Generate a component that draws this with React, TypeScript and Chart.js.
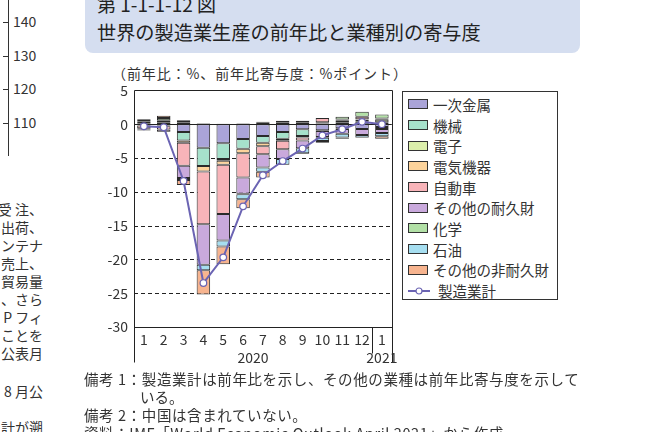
import React, { useEffect, useRef } from 'react';
import Chart from 'chart.js/auto';

// 月（2020年1月〜2021年1月）
const months = ['1', '2', '3', '4', '5', '6', '7', '8', '9', '10', '11', '12', '1'];
const yearLabels = ['2020', '2021'];

// 業種別の寄与度（%ポイント）
const ichijiKinzoku = [-0.1, -0.2, -1.15, -3.5, -2.8, -2.2, -1.75, -1.15, -0.75, -0.9, -0.6, -0.7, -0.4];
const kikai = [0.15, 0.3, -1.25, -2.7, -2.35, -1.45, -1.0, -1.0, -1.0, 0.1, 0.3, 0.35, 0.3];
const denshi = [0.3, 0.3, 0.3, 0.1, -0.25, 0.1, 0.3, 0.3, 0.3, 0.2, 0.3, 0.3, 0.35];
const denkiKiki = [-0.1, -0.1, -0.35, -0.8, -0.6, -0.65, -0.5, -0.3, -0.2, -0.1, -0.1, 0.1, 0.2];
const jidosha = [-0.4, -0.5, -3.4, -7.8, -7.3, -3.6, -1.2, -1.25, -0.45, 0.6, 0.1, 0.35, -0.3];
const sonotaTaikyu = [-0.2, -0.3, -1.8, -6.0, -3.9, -2.4, -1.95, -1.45, -1.15, -0.9, -0.7, -0.9, -0.6];
const kagaku = [0.3, 0.3, 0.3, 0.05, 0.05, -0.05, 0.05, 0.2, 0.2, -0.1, 0.4, 0.75, 0.6];
const sekiyu = [-0.05, -0.05, -0.3, -0.8, -0.9, -0.75, -0.65, -0.85, -0.75, -0.5, -0.55, -0.35, -0.5];
const sonotaHiTaikyu = [-0.1, 0.35, -0.75, -3.6, -2.6, -1.35, -0.85, -0.05, -0.1, -0.25, -0.2, -0.1, -0.35];

// 製造業計（前年比 %）
const seizogyoKei = [-0.3, -0.45, -8.4, -23.5, -19.7, -12.15, -7.55, -5.45, -3.6, -1.65, -0.75, 0.35, 0.0];

const barSeries = [
  { label: '一次金属', data: ichijiKinzoku, color: '#aaa4d8' },
  { label: '機械', data: kikai, color: '#a6e1cb' },
  { label: '電子', data: denshi, color: '#dcefab' },
  { label: '電気機器', data: denkiKiki, color: '#fdd39b' },
  { label: '自動車', data: jidosha, color: '#f8b4b9' },
  { label: 'その他の耐久財', data: sonotaTaikyu, color: '#c9a9dc' },
  { label: '化学', data: kagaku, color: '#b2e0a6' },
  { label: '石油', data: sekiyu, color: '#a6def0' },
  { label: 'その他の非耐久財', data: sonotaHiTaikyu, color: '#f7b48f' },
];
const lineLabel = '製造業計';
const lineColor = '#6b64b3';

const yTicks = [5, 0, -5, -10, -15, -20, -25, -30];

const FONT = '"Noto Sans CJK JP", "Noto Sans", sans-serif';
const INK = '#333';

// 破線グリッド・枠・年ラベル
const framePlugin = {
  id: 'frame',
  beforeDatasetsDraw(chart: any) {
    const { ctx, chartArea, scales } = chart;
    const y = scales.y;
    ctx.save();
    ctx.lineWidth = 1;
    ctx.strokeStyle = '#222';
    yTicks.forEach((v) => {
      if (v === 5 || v === -30) return;
      const py = Math.round(y.getPixelForValue(v)) + 0.5;
      ctx.setLineDash(v === 0 ? [] : [4, 3]);
      ctx.beginPath();
      ctx.moveTo(chartArea.left, py);
      ctx.lineTo(chartArea.right, py);
      ctx.stroke();
    });
    ctx.restore();
  },
  afterDraw(chart: any) {
    const { ctx, chartArea, scales } = chart;
    const x = scales.x;
    const l = Math.round(chartArea.left) + 0.5;
    const r = Math.round(chartArea.right) + 0.5;
    const t = Math.round(chartArea.top) + 0.5;
    const b = Math.round(chartArea.bottom) + 0.5;
    ctx.save();
    ctx.strokeStyle = '#222';
    ctx.lineWidth = 1;
    ctx.setLineDash([]);
    ctx.beginPath();
    ctx.moveTo(l, b + 35);
    ctx.lineTo(l, t);
    ctx.lineTo(r, t);
    ctx.lineTo(r, b + 35);
    ctx.moveTo(l, b);
    ctx.lineTo(r, b);
    const sep = Math.round((x.getPixelForValue(11) + x.getPixelForValue(12)) / 2) + 0.5;
    ctx.moveTo(sep, b);
    ctx.lineTo(sep, b + 26);
    ctx.stroke();

    ctx.fillStyle = INK;
    ctx.font = `14px ${FONT}`;
    ctx.textAlign = 'center';
    ctx.textBaseline = 'middle';
    const c2020 = (x.getPixelForValue(0) + x.getPixelForValue(11)) / 2;
    ctx.fillText(yearLabels[0], c2020, b + 30);
    ctx.fillText(yearLabels[1], x.getPixelForValue(12), b + 30);
    ctx.restore();
  },
};

const MfgChart: React.FC = () => {
  const canvasRef = useRef<HTMLCanvasElement | null>(null);

  useEffect(() => {
    if (!canvasRef.current) return;
    const chart = new Chart(canvasRef.current, {
      type: 'bar',
      data: {
        labels: months,
        datasets: [
          {
            type: 'line',
            label: lineLabel,
            data: seizogyoKei,
            stack: 'total',
            order: -1,
            borderColor: lineColor,
            borderWidth: 2,
            pointRadius: 3.3,
            pointBorderWidth: 1.2,
            pointBackgroundColor: '#fff',
            pointBorderColor: lineColor,
            tension: 0,
          } as any,
          ...barSeries.map((s) => ({
            type: 'bar' as const,
            label: s.label,
            data: s.data,
            stack: 'parts',
            backgroundColor: s.color,
            borderColor: '#2a2a2a',
            borderWidth: 1,
            borderSkipped: false,
            barPercentage: 0.68,
            categoryPercentage: 1,
          })),
        ],
      },
      options: {
        animation: false,
        responsive: true,
        maintainAspectRatio: false,
        layout: { padding: { top: 3, right: 5, left: 0, bottom: 0 } },
        plugins: { legend: { display: false }, tooltip: { enabled: false } },
        scales: {
          x: {
            stacked: true,
            grid: { display: false, drawTicks: false },
            border: { display: false },
            ticks: {
              color: INK,
              font: { family: FONT, size: 14 },
              padding: 4,
              maxRotation: 0,
              autoSkip: false,
            },
            afterFit: (scale: any) => {
              scale.height = 45;
            },
          },
          y: {
            stacked: true,
            min: -30,
            max: 5,
            grid: { display: false, drawTicks: false },
            border: { display: false },
            ticks: {
              stepSize: 5,
              color: INK,
              font: { family: FONT, size: 14 },
              padding: 6,
            },
            afterFit: (scale: any) => {
              scale.width = 49;
            },
          },
        },
      },
      plugins: [framePlugin],
    });
    return () => {
      chart.destroy();
    };
  }, []);

  return (
    <div style={{ position: 'absolute', left: 85, top: 76, width: 312, height: 296 }}>
      <canvas ref={canvasRef} />
    </div>
  );
};

const Legend: React.FC = () => (
  <div
    style={{
      position: 'absolute',
      left: 402,
      top: 91,
      width: 156,
      height: 209,
      border: '1px solid #333',
      boxSizing: 'border-box',
      paddingTop: 2,
    }}
  >
    {barSeries.map((s) => (
      <div key={s.label} style={{ display: 'flex', alignItems: 'center', height: 20.7, paddingLeft: 5 }}>
        <span
          style={{
            display: 'inline-block',
            width: 20,
            height: 10,
            background: s.color,
            border: '1px solid #333',
            boxSizing: 'border-box',
            marginRight: 5,
          }}
        />
        <span style={{ fontSize: 14.5, color: INK, whiteSpace: 'nowrap' }}>{s.label}</span>
      </div>
    ))}
    <div style={{ display: 'flex', alignItems: 'center', height: 20.7, paddingLeft: 5 }}>
      <svg width={22} height={10} style={{ marginRight: 8 }}>
        <line x1={0} y1={5} x2={22} y2={5} stroke={lineColor} strokeWidth={2} />
        <circle cx={11} cy={5} r={3} fill="#fff" stroke={lineColor} strokeWidth={1.2} />
      </svg>
      <span style={{ fontSize: 14.5, color: INK, whiteSpace: 'nowrap' }}>{lineLabel}</span>
    </div>
  </div>
);

const sideLines: { text: string; y: number }[] = [
  { text: '受 注、', y: 210 },
  { text: '出荷、', y: 228 },
  { text: 'ンテナ', y: 246 },
  { text: '売上、', y: 264 },
  { text: '貿易量', y: 282 },
  { text: '、さら', y: 300 },
  { text: 'P フィ', y: 318 },
  { text: 'ことを', y: 336 },
  { text: '公表月', y: 354 },
  { text: '8 月公', y: 392 },
  { text: '計が遡', y: 428 },
];
const sideTicks = ['140', '130', '120', '110'];

const App: React.FC = () => {
  const text: React.CSSProperties = { position: 'absolute', whiteSpace: 'nowrap', color: INK, lineHeight: 1 };
  return (
    <div
      style={{
        position: 'fixed',
        left: 0,
        top: 0,
        width: 667,
        height: 432,
        overflow: 'hidden',
        background: '#fff',
        fontFamily: FONT,
      }}
    >
      {/* 左端の別図の軸 */}
      <div style={{ position: 'absolute', left: 8, top: 0, width: 1, height: 156, background: '#333' }} />
      {sideTicks.map((t, i) => (
        <React.Fragment key={t}>
          <div style={{ position: 'absolute', left: 3, top: 22 + i * 33.7, width: 5, height: 1, background: '#333' }} />
          <div style={{ ...text, left: 13, top: 22 + i * 33.7 - 8, fontSize: 14 }}>{t}</div>
        </React.Fragment>
      ))}
      {sideLines.map((l) => (
        <div key={l.y} style={{ ...text, right: 667 - 43, top: l.y - 8, fontSize: 14, textAlign: 'right' }}>
          {l.text}
        </div>
      ))}

      {/* タイトル */}
      <div
        style={{
          position: 'absolute',
          left: 85,
          top: -20,
          width: 495,
          height: 73,
          background: '#d5def0',
          borderRadius: 8,
        }}
      />
      <div style={{ ...text, left: 97, top: -6, fontSize: 19, color: '#222' }}>第 1-1-1-12 図</div>
      <div style={{ ...text, left: 97, top: 23, fontSize: 19.2, color: '#222' }}>
        世界の製造業生産の前年比と業種別の寄与度
      </div>

      <div style={{ ...text, left: 112, top: 66, fontSize: 14, letterSpacing: 0.9 }}>
        （前年比：%、前年比寄与度：%ポイント）
      </div>

      <MfgChart />
      <Legend />

      {/* 備考 */}
      <div style={{ ...text, left: 84, top: 372, fontSize: 14.5, letterSpacing: 0.6 }}>
        備考 1：製造業計は前年比を示し、その他の業種は前年比寄与度を示して
      </div>
      <div style={{ ...text, left: 140, top: 390, fontSize: 14.5 }}>いる。</div>
      <div style={{ ...text, left: 84, top: 408, fontSize: 14.5, letterSpacing: 0.6 }}>
        備考 2：中国は含まれていない。
      </div>
      <div style={{ ...text, left: 84, top: 426, fontSize: 14.5, letterSpacing: 0.6 }}>
        資料：IMF「World Economic Outlook April 2021」から作成
      </div>
    </div>
  );
};

export default App;
